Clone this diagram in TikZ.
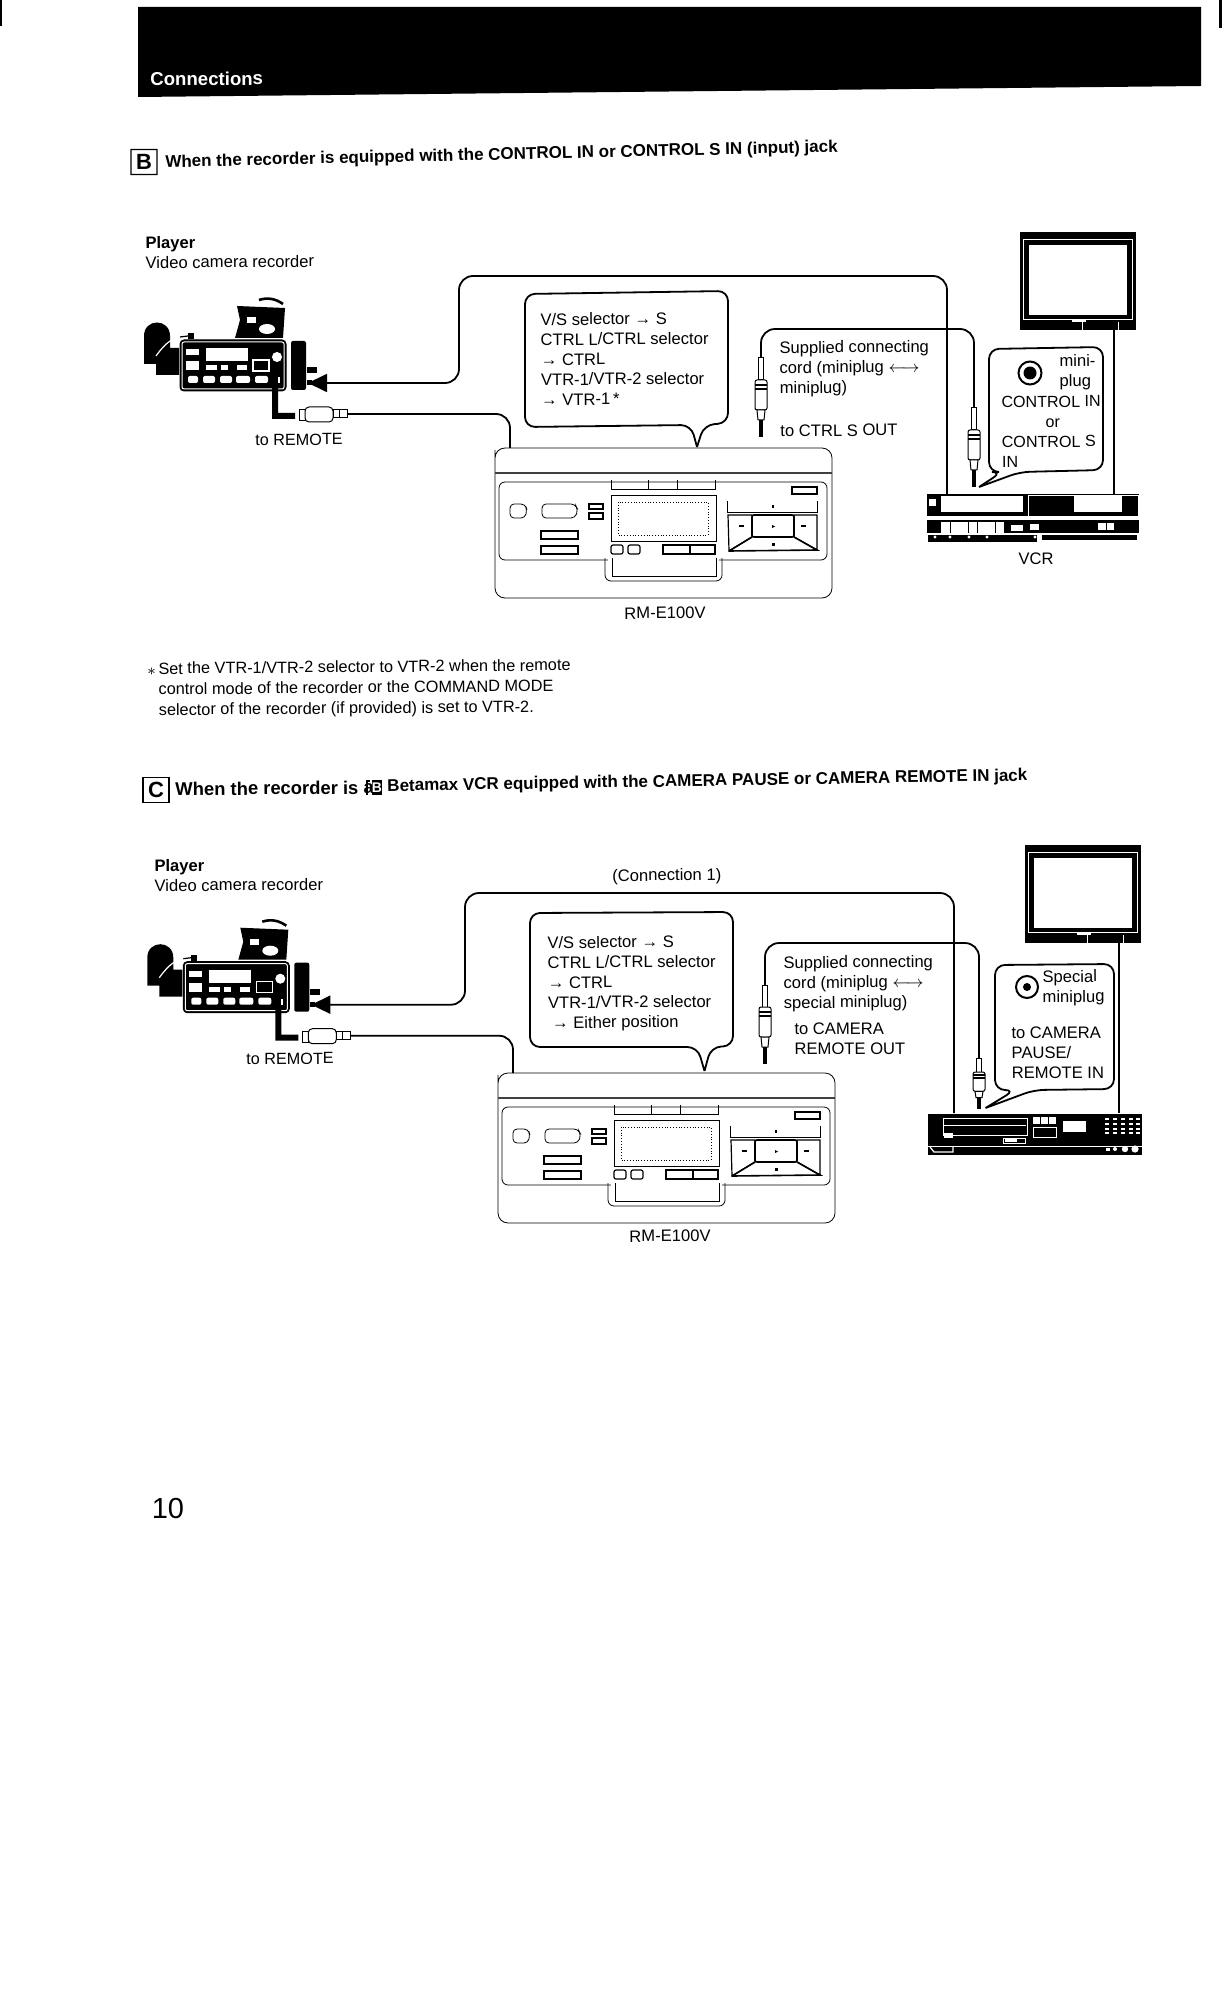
\documentclass[tikz,border=0pt]{standalone}
\usepackage{fontspec}
\setmainfont{Liberation Sans}
\usepackage{tikz}
\usetikzlibrary{arrows.meta,positioning}

\newcommand{\bodysize}{\fontsize{8.3}{10}\selectfont}
\newcommand{\headsize}{\fontsize{8.5}{11}\selectfont\bfseries}

\tikzset{
    camcorder/.pic={
        % hood and rear block
        \fill (24,144) -- (24,116) .. controls (24,98) and (50,98) .. (50,116) -- (50,128) -- (59,128) -- (59,155) -- (36,155) -- (36,144) -- cycle;
        \draw[white, line width=.6pt] (36,136) .. controls (46,122) and (52,119) .. (60,117);
        \draw[line width=.6pt] (60,117) -- (68,116);
        \fill (68,113) rectangle (74,119);
        % viewfinder on top
        \fill (117,86) -- (165,88) -- (163,118) -- (115,118) -- (120,100) -- cycle;
        \fill[white] (127,97) rectangle (136,103);
        \fill[white] (147,109) ellipse (8 and 5);
        \draw[line width=1.3pt] (139,80) .. controls (148,77) and (156,79) .. (163,84);
        % main panel
        \draw[fill=black, line width=.5pt, rounded corners=2pt] (60,120) rectangle (166,171);
        \draw[white, line width=.5pt, rounded corners=1pt] (62,122) rectangle (164,169);
        \fill[white] (86,128) rectangle (128,141);
        \foreach \xa/\xb in {86/97, 101/108, 117/127} {\fill[white] (\xa,145) rectangle (\xb,150);}
        \foreach \xa/\xb in {68/78, 83/95, 100/112, 116/130, 135/148} {\fill[white, rounded corners=1pt] (\xa,156) rectangle (\xb,163);}
        \fill[white] (66,129) rectangle (79,135);
        \fill[white] (66,141) rectangle (79,150);
        \draw[white, line width=.6pt] (133,140) rectangle (149,151);
        \fill[white] (157,137) circle (5);
        \fill[white] (158,157) rectangle (160,163);
        % front ring and jacks
        \fill[rounded corners=1pt] (171,121) rectangle (186,170);
        \fill (187,147) rectangle (197,153);
        \fill (187,160) rectangle (192,165);
        \fill (152,167) -- (158,167) -- (158,193) -- (175,193) -- (175,199) -- (152,199) -- cycle;
        % plug on the remote lead
        \draw[line width=.5pt] (179,190) rectangle (185,201);
        \draw[line width=.5pt, fill=white, rounded corners=2pt] (185,187) rectangle (213,202);
        \draw[line width=.5pt] (213,190) rectangle (227,198);
        \draw[line width=.4pt] (219,190) -- (219,198);
        \coordinate (-out) at (188,163);
        \coordinate (-lead) at (227,194);
    },
    remote/.pic={
        \draw[thinline, rounded corners=5pt] (5,30) -- (5,168) -- (342,168) -- (342,18) -- (5,18) -- cycle;
        \draw[line width=.9pt, black!75] (5,43) -- (342,43);
        \draw[thinline, rounded corners=3pt] (9,52) rectangle (337,130);
        \fill[white] (118,129) rectangle (229,131);
        \draw[thinline, rounded corners=3pt] (115,128) -- (115,151) -- (232,151) -- (232,128);
        \draw[thinline, rounded corners=2pt] (20,74) -- (35,74) -- (37,80) -- (35,88) -- (20,88) -- cycle;
        \draw[thinline, rounded corners=2pt] (52,74) -- (85,74) -- (88,80) -- (85,88) -- (52,88) -- cycle;
        \foreach \ya/\yb in {74/79, 83/89} {\draw[rowkey] (99,\ya) rectangle (113,\yb);}
        \foreach \ya/\yb in {101/109, 116/124} {\draw[rowkey] (51,\ya) rectangle (88,\yb);}
        \draw[thinline] (121,50) -- (121,59) -- (225,59) -- (225,50) (158,50) -- (158,59) (187,50) -- (187,59);
        \draw[thinline] (121,65) rectangle (226,111);
        \draw[thinline, densely dotted] (128,72) rectangle (218,105);
        \foreach \xa/\xb in {121/133, 138/150} {\draw[rowkey, rounded corners=1pt] (\xa,115) rectangle (\xb,124);}
        \draw[rowkey] (173,115) rectangle (225,124) (200,115) -- (200,124);
        \draw[thinline] (122,128) -- (122,146) -- (226,146) -- (226,128);
        \draw[line width=.8pt] (302,57) rectangle (327,64);
        % transport keys
        \draw[thinline] (237,71) -- (237,82) -- (327,82) -- (327,71);
        \draw[rowkey] (238,85) -- (262,85) -- (262,107) -- (239,121) -- cycle;
        \draw[line width=.8pt, rounded corners=1pt] (262,85) rectangle (304,107);
        \draw[rowkey] (304,85) -- (327,85) -- (327,120) -- (304,107) -- cycle;
        \draw[line width=.8pt] (239,121) -- (262,107) (304,107) -- (327,120) -- (239,121);
        \fill (282,75) rectangle (284,78);
        \fill (249,95) rectangle (254,97);
        \fill (311,95) rectangle (316,97);
        \fill (282,95) -- (285,96.5) -- (282,98) -- cycle;
        \fill (282,113) rectangle (285,116);
    },
    screenset/.pic={
        \fill (0,0) rectangle (116,98);
        \draw[white, line width=.4pt] (3.5,7) rectangle (112.5,87);
        \fill[white] (8.6,13) rectangle (107,83);
        \fill[white] (52,87) rectangle (66,90);
        \fill[white] (62,90) rectangle (62.6,98);
        \fill[white] (98,90) rectangle (98.6,98);
        \coordinate (-out) at (94,98);
    },
    miniplug/.pic={
        \draw[line width=.5pt, fill=white] (-2.5,0) rectangle (2.5,22);
        \draw[line width=.5pt, fill=white, rounded corners=1pt] (-6,22) rectangle (6,52);
        \draw[line width=.8pt] (-6,27) -- (6,27) (-6,31) -- (6,31);
        \draw[line width=.5pt, fill=white] (-4,52) -- (4,52) -- (3,62) -- (-3,62) -- cycle;
        \fill (-1.6,62) rectangle (1.6,79);
        \coordinate (-top) at (0,0);
    },
    thinline/.style={line width=.4pt},
    rowkey/.style={line width=.6pt},
    bubble/.style={line width=.9pt, rounded corners=5pt},
    cord/.style={line width=.9pt, rounded corners=7pt},
    txt/.style={font=\bodysize, inner sep=0pt, anchor=north west, align=left, rotate=.5},
    toptext/.style={txt, font=\headsize},
    letterbox/.style={draw, line width=.6pt, font=\fontsize{11}{12}\selectfont\bfseries, inner sep=0pt, minimum width=13pt, minimum height=12.5pt},
    camtip/.style={{Triangle[length=9.5pt,width=9pt]}-}
}

\begin{document}
\begin{tikzpicture}[x=.5pt, y=-.5pt]
\useasboundingbox (0,0) rectangle (1224,2016);

% page header
\fill (138,7) -- (1201,7) -- (1201,86) -- (138,97) -- cycle;
\fill (0,0) rectangle (2,26);
\fill (1219,0) rectangle (1222,28);
\node[inner sep=0pt, anchor=west, text=white, font=\fontsize{9.3}{12}\selectfont\bfseries, rotate=.4] (conntitle) at (150,79) {Connections};

% part B
\node[letterbox, rotate=.4] (letterB) at (144,162) {B};
\node[toptext, anchor=west, rotate=.8] (headB) at (165,163) {When the recorder is equipped with the CONTROL IN or CONTROL S IN (input) jack};
\node[txt] (playerB) at (145,236) {\textbf{Player}\\Video camera recorder};

\pic (camB) at (120,220) {camcorder};
\pic (remB) at (490,430) {remote};
\pic (tvB) at (1020,232) {screenset};
\node[txt, anchor=west, font=\fontsize{8.1}{10}\selectfont] (tormtB) at (255,440) {to REMOTE};

% callout over the remote
\draw[bubble] (697,447) -- (704,425) -- (728,423) -- (728,291) -- (525,294) -- (525,427) -- (691,425) -- (697,447);
\node[txt] (setB) at (540,313) {V/S selector → S\\CTRL L/CTRL selector\\→ CTRL\\VTR-1/VTR-2 selector\\→ VTR-1\,*};
\node[txt, anchor=center] (nameB) at (665,613) {RM-E100V};

% supplied cord
\pic (plugLB) at (761,358) {miniplug};
\pic (plugRB) at (974,408) {miniplug};
\coordinate (cordB) at (860,329);
\draw[cord] (plugLB-top) |- (cordB) -| (plugRB-top);
\node[txt] (cordtxtB) at (779,341) {Supplied connecting\\cord (miniplug $\longleftrightarrow$\\miniplug)};
\node[txt, anchor=west] (outB) at (780,431) {to CTRL S OUT};

% VCR of part B
\begin{scope}[shift={(920,485)}]
    \fill (7,9) rectangle (219,31);
    \fill[white] (21,10.5) rectangle (103,27);
    \fill[white] (9,14) rectangle (16,21);
    \draw[white, line width=.4pt] (108,10) rectangle (218,31);
    \fill[white] (154,11) rectangle (202,27);
    \fill (7,35) rectangle (219,48);
    \foreach \xa/\xb in {21/30, 31/48, 49/57, 58/75, 76/84} {\fill[white] (\xa,37) rectangle (\xb,48);}
    \fill[white] (91,40) rectangle (103,46);
    \fill[white] (110,39) rectangle (119,45);
    \fill[white] (178,38) rectangle (186,45);
    \fill[white] (187,38) rectangle (194,45);
    \fill (8,50) rectangle (117,57);
    \fill (122,50) rectangle (217,55);
    \foreach \xd in {15, 30, 49, 67, 115} {\fill[white] (\xd,52) circle (1.6);}
\end{scope}
\coordinate (vcrBa) at (947,494);
\coordinate (vcrBb) at (tvB-out |- vcrBa);
\node[txt, anchor=center] (nameVCR) at (1036,559) {VCR};
\coordinate (hiB) at (459,276);
\draw[cord, camtip] (camB-out) -| (hiB) -| (vcrBa);
\coordinate (remBa) at (510,448);
\draw[cord] (camB-lead) -| (remBa);
\draw[line width=.9pt] (tvB-out) -- (vcrBb);

% callout over the VCR
\draw[bubble] (979,487) -- (1020,472) -- (1103,470) -- (1103,347) -- (989,349) -- (989,472) -- (1002,472) -- (979,487);
\draw[line width=1pt, fill=white] (1030,373) circle (11.5);
\fill (1030,373) circle (6.5);
\node[txt] (miniB) at (1059,354) {mini-\\plug};
\node[txt, font=\fontsize{8.05}{10}\selectfont] (ctrlB) at (1001,396) {CONTROL IN\\\hspace*{22pt}or\\CONTROL S\\IN};

% footnote
\node[txt, font=\fontsize{8.3}{11}\selectfont] (footstar) at (147,668) {$*$};
\node[txt, font=\fontsize{8.15}{10.3}\selectfont] (footB) at (158,662) {Set the VTR-1/VTR-2 selector to VTR-2 when the remote\\control mode of the recorder or the COMMAND MODE\\selector of the recorder (if provided) is set to VTR-2.};

% part C
\node[letterbox] (letterC) at (156,790) {C};
\node[toptext, anchor=west, rotate=0, font=\fontsize{9.2}{11}\selectfont\bfseries] (headC) at (175,789) {When the recorder is a};
\draw[line width=1.3pt] (367,795) -- (367,781) -- (370,781);
\node[fill=black, text=white, inner sep=0pt, minimum width=5pt, minimum height=7.5pt, font=\fontsize{7}{8}\selectfont\bfseries] (betaC) at (377,787.5) {B};
\node[toptext, anchor=west, rotate=.45] (headCb) at (387,787) {Betamax VCR equipped with the CAMERA PAUSE or CAMERA REMOTE IN jack};
\node[txt] (playerC) at (154,859) {\textbf{Player}\\Video camera recorder};
\node[txt, anchor=west] (connC) at (612,877) {(Connection 1)};

\pic (camC) at (123.3,841.7) {camcorder};
\pic (remC) at (493,1055) {remote};
\pic (tvC) at (1025,845) {screenset};
\node[txt, anchor=west, font=\fontsize{8.1}{10}\selectfont] (tormtC) at (246,1059) {to REMOTE};

\draw[bubble] (704.5,1071) -- (711,1047) -- (733,1046) -- (733,912) -- (530,913) -- (530,1047) -- (697.5,1047) -- (704.5,1071);
\node[txt] (setC) at (547,936) {V/S selector → S\\CTRL L/CTRL selector\\→ CTRL\\VTR-1/VTR-2 selector\\\hspace{2pt}→ Either position};
\node[txt, anchor=center] (nameC) at (670,1236) {RM-E100V};

\pic (plugLC) at (765,985) {miniplug};
\pic[yscale=.64] (plugRC) at (979,1058) {miniplug};
\coordinate (cordC) at (860,943);
\draw[cord] (plugLC-top) |- (cordC) -| (plugRC-top);
\node[txt] (cordtxtC) at (783,956) {Supplied connecting\\cord (miniplug $\longleftrightarrow$\\special miniplug)};
\node[txt] (outC) at (794,1023) {to CAMERA\\REMOTE OUT};

% VCR of part C
\begin{scope}[shift={(920,1105)}]
    \fill (8,9) rectangle (222,50);
    \draw[white, line width=.5pt] (23,13) rectangle (107,30);
    \draw[white, line width=.5pt] (24,20) -- (106,20);
    \fill[white] (24,28) rectangle (33,33);
    \foreach \xa in {113, 121, 129} {\fill[white] (\xa,12) rectangle (\xa+7,19);}
    \draw[white, line width=.5pt] (113,22) rectangle (136,32);
    \fill[white] (143,16) rectangle (166,27);
    \foreach \xk in {185, 193, 201, 209, 216} {\foreach \yk in {13, 18, 23, 27} {\fill[white] (\xk,\yk) rectangle (\xk+4,\yk+2);}}
    \draw[white, line width=.5pt] (83,33) rectangle (105,38);
    \fill[white] (85,34) rectangle (97,37);
    \draw[white, line width=.5pt] (8,41) -- (222,41);
    \fill[white] (186,43) rectangle (190,46);
    \fill[white] (195,44) circle (2);
    \fill[white] (205,44) circle (3.2);
    \fill[white] (215,44) circle (3.6);
    \draw[white, line width=.6pt] (10,42) -- (14,47) -- (33,47) -- (33,42);
\end{scope}
\coordinate (vcrCa) at (954,1113);
\coordinate (vcrCb) at (tvC-out |- vcrCa);
\coordinate (hiC) at (465,893);
\draw[cord, camtip] (camC-out) -| (hiC) -| (vcrCa);
\coordinate (remCa) at (513,1073);
\draw[cord] (camC-lead) -| (remCa);
\draw[line width=.9pt] (tvC-out) -- (vcrCb);

% callout over the second VCR
\draw[bubble] (985.5,1108) -- (1034,1090) -- (1114,1089) -- (1114,964) -- (995,965) -- (995,1090) -- (1015,1090) -- (985.5,1108);
\draw[line width=1pt, fill=white] (1027,987) circle (11);
\fill (1027,987) circle (4);
\node[txt] (specC) at (1042,970) {Special\\miniplug};
\node[txt] (inC) at (1011,1027) {to CAMERA\\PAUSE/\\REMOTE IN};

\node[inner sep=0pt, font=\fontsize{14.5}{16}\selectfont] (pagenum) at (168,1508) {10};
\end{tikzpicture}
\end{document}
